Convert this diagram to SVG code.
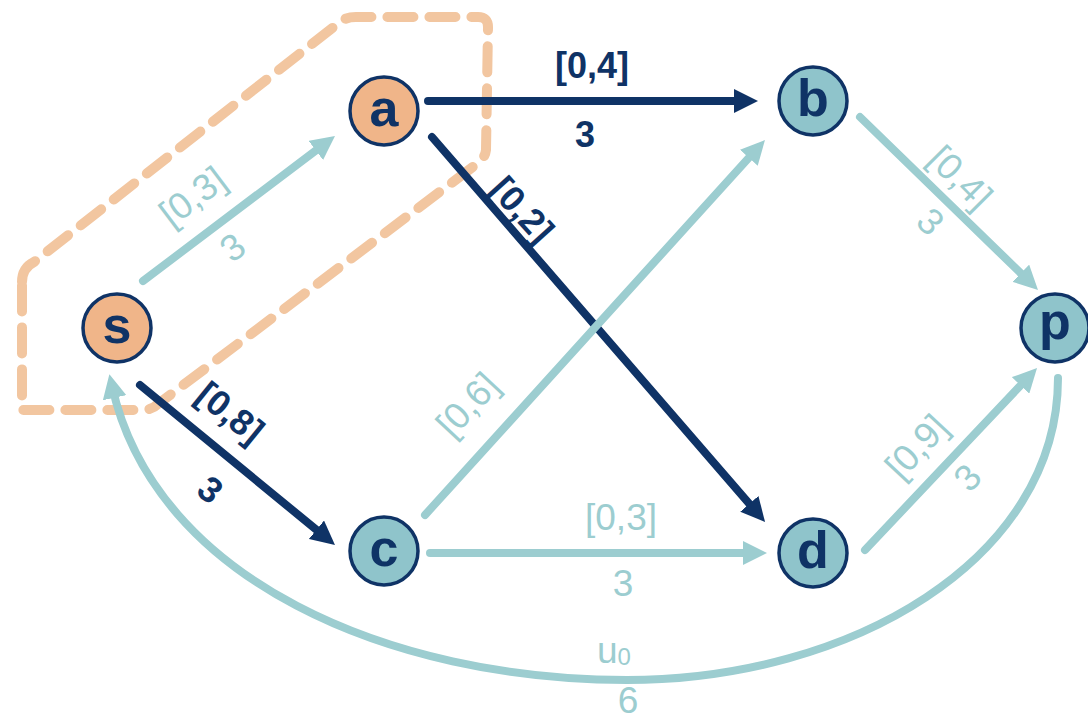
<svg xmlns="http://www.w3.org/2000/svg" width="1088" height="720" viewBox="0 0 1088 720">
<defs>
<style>
.nav{stroke:#0F3366;stroke-width:8;fill:none;stroke-linecap:round}
.lt{stroke:#9CCDD0;stroke-width:8;fill:none;stroke-linecap:round}
.nodeO{fill:#F0B589;stroke:#0F3366;stroke-width:3.5}
.nodeT{fill:#8FC4CB;stroke:#0F3366;stroke-width:3.5}
.nl{font-family:"Liberation Sans",Arial,sans-serif;font-weight:bold;font-size:52px;fill:#0F3366;text-anchor:middle}
.tn{font-family:"Liberation Sans",Arial,sans-serif;font-weight:bold;font-size:36px;fill:#0F3366;text-anchor:middle}
.tl{font-family:"Liberation Sans",Arial,sans-serif;font-size:37px;fill:#9CCDD0;text-anchor:middle}
.cut{fill:none;stroke:#F2C6A0;stroke-width:10;stroke-dasharray:26 16;stroke-linejoin:round;stroke-linecap:round}
</style>
<marker id="an" viewBox="0 0 10 10" refX="5" refY="5" markerWidth="24" markerHeight="24" markerUnits="userSpaceOnUse" orient="auto"><path d="M0,0 L10,5 L0,10 z" fill="#0F3366"/></marker>
<marker id="al" viewBox="0 0 10 10" refX="5" refY="5" markerWidth="24" markerHeight="24" markerUnits="userSpaceOnUse" orient="auto"><path d="M0,0 L10,5 L0,10 z" fill="#9CCDD0"/></marker>
</defs>
<rect width="1088" height="720" fill="#FFFFFF"/>
<path class="cut" d="M22 282 Q22 268 34 262 L340 22 Q346 17 356 17 L478 17 Q488 17 488 27 L486 150 Q485 158 478 163 L158 404 Q152 410 142 410 L24 410 L22 410 Z"/>
<g id="connectors">
<line class="lt" x1="143" y1="281" x2="325.4" y2="143.2" marker-end="url(#al)"/>
<line class="nav" x1="428" y1="101" x2="746" y2="101" marker-end="url(#an)"/>
<line class="nav" x1="432" y1="137" x2="757.2" y2="512.9" marker-end="url(#an)"/>
<line class="nav" x1="140" y1="385" x2="325.7" y2="537.4" marker-end="url(#an)"/>
<line class="lt" x1="425" y1="515" x2="756.9" y2="148.9" marker-end="url(#al)"/>
<line class="lt" x1="430" y1="553" x2="755" y2="553" marker-end="url(#al)"/>
<line class="lt" x1="860" y1="117" x2="1029.4" y2="281.6" marker-end="url(#al)"/>
<line class="lt" x1="865" y1="550" x2="1028.8" y2="376.7" marker-end="url(#al)"/>
<path class="lt" d="M1058 378 C1058 560 850 680 627 680 C390 680 155 580 112 386" marker-end="url(#al)"/>
<text class="tl" transform="translate(193,197) rotate(-37)" y="12">[0,3]</text>
<text class="tl" transform="translate(233,248) rotate(-37)" y="12">3</text>
<text class="tn" x="592" y="78">[0,4]</text>
<text class="tn" x="585" y="147">3</text>
<text class="tn" transform="translate(522,210) rotate(48)" y="12">[0,2]</text>
<text class="tn" transform="translate(230,413) rotate(39)" y="12">[0,8]</text>
<text class="tn" transform="translate(210,490) rotate(39)" y="12">3</text>
<text class="tl" transform="translate(468,405) rotate(-47)" y="12">[0,6]</text>
<text class="tl" x="621" y="530">[0,3]</text>
<text class="tl" x="623" y="596">3</text>
<text class="tl" transform="translate(960,178) rotate(45)" y="12">[0,4]</text>
<text class="tl" transform="translate(930,222) rotate(45)" y="12">3</text>
<text class="tl" transform="translate(917,447) rotate(-47)" y="12">[0,9]</text>
<text class="tl" transform="translate(968,478) rotate(-47)" y="12">3</text>
<text class="tl" x="614" y="663">u<tspan font-size="24" dy="2">0</tspan></text>
<text class="tl" x="628" y="713">6</text>
</g>
<g id="node-s"><circle class="nodeO" cx="117" cy="328" r="34"/><text class="nl" x="117" y="343">s</text></g>
<g id="node-a"><circle class="nodeO" cx="384" cy="111" r="34"/><text class="nl" x="384" y="126">a</text></g>
<g id="node-b"><circle class="nodeT" cx="813" cy="101" r="34"/><text class="nl" x="813" y="116">b</text></g>
<g id="node-p"><circle class="nodeT" cx="1055" cy="328" r="34"/><text class="nl" x="1055" y="339">p</text></g>
<g id="node-c"><circle class="nodeT" cx="384" cy="551" r="34"/><text class="nl" x="384" y="566">c</text></g>
<g id="node-d"><circle class="nodeT" cx="813" cy="553" r="34"/><text class="nl" x="813" y="568">d</text></g>
</svg>
